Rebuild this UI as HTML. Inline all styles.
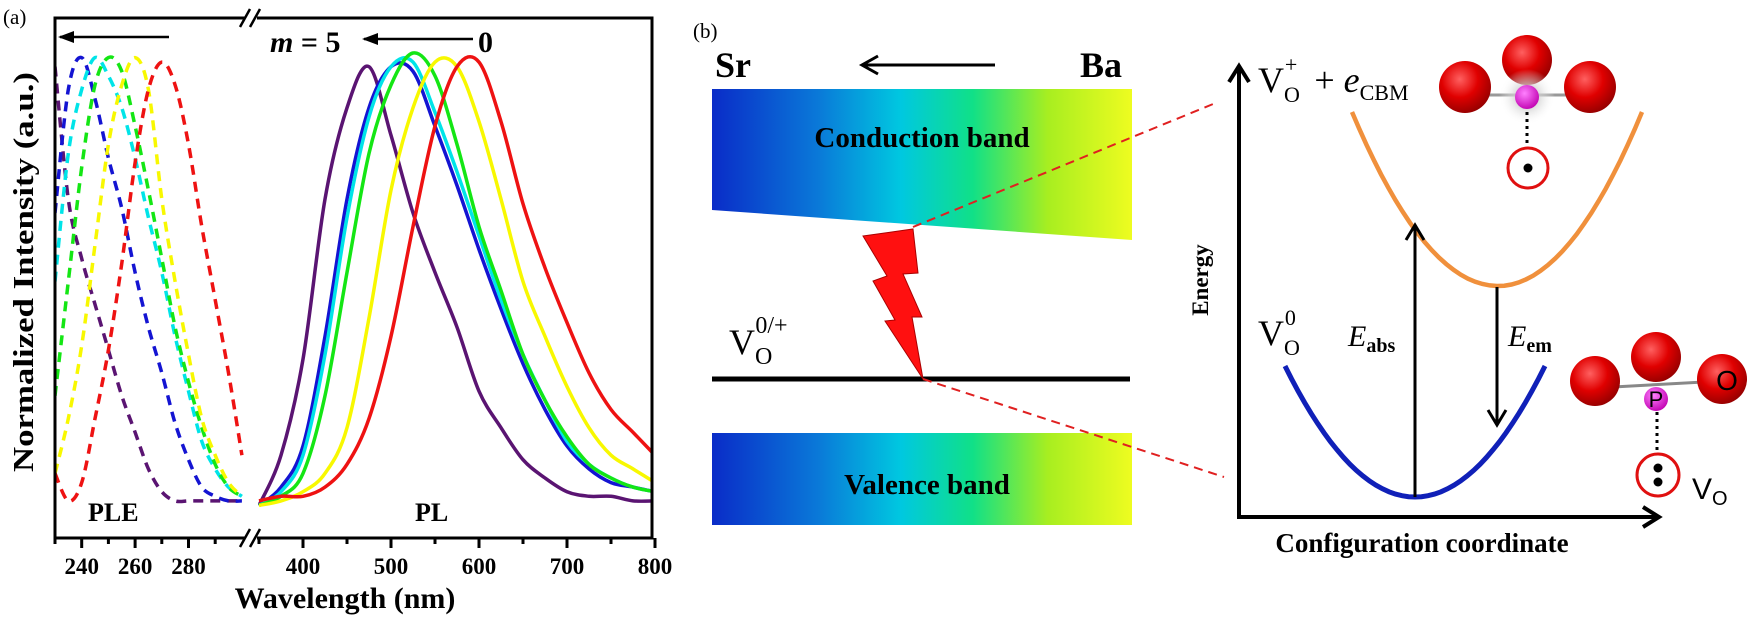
<!DOCTYPE html>
<html><head><meta charset="utf-8"><style>
html,body{margin:0;padding:0;background:#fff;}
svg{display:block;font-family:"Liberation Serif",serif;}
</style></head><body>
<svg id="fig" width="1750" height="622" viewBox="0 0 1750 622" xmlns="http://www.w3.org/2000/svg">
<defs>
<linearGradient id="bandGrad" x1="0" x2="1" y1="0" y2="0">
<stop offset="0" stop-color="#0a2cc8"/><stop offset="0.25" stop-color="#0a78d8"/><stop offset="0.45" stop-color="#00c8e0"/><stop offset="0.62" stop-color="#10e088"/><stop offset="0.8" stop-color="#a8ee20"/><stop offset="1" stop-color="#eefc20"/>
</linearGradient>
<radialGradient id="ball" cx="0.4" cy="0.35" r="0.7"><stop offset="0" stop-color="#ff6060"/><stop offset="0.5" stop-color="#e00000"/><stop offset="1" stop-color="#900000"/></radialGradient>
<radialGradient id="pball" cx="0.4" cy="0.35" r="0.7"><stop offset="0" stop-color="#ff80ff"/><stop offset="1" stop-color="#c000b0"/></radialGradient>
<radialGradient id="glow"><stop offset="0.3" stop-color="#c8c8c8" stop-opacity="0.9"/><stop offset="1" stop-color="#ffffff" stop-opacity="0"/></radialGradient>
</defs>
<g id="panelA"></g>
<g id="panelB">
<text x="693" y="38" font-size="21">(b)</text>
<text x="715" y="77" font-size="36" font-weight="bold">Sr</text>
<text x="1080" y="77" font-size="36" font-weight="bold">Ba</text>
<g><line x1="995" y1="65" x2="862" y2="65" stroke="#000" stroke-width="3"/><polyline points="878,56 862,65 878,74" fill="none" stroke="#000" stroke-width="3"/></g>
<polygon points="712,89 1132,89 1132,240 712,210" fill="url(#bandGrad)"/>
<text x="922" y="147" font-size="29" font-weight="bold" text-anchor="middle">Conduction band</text>
<rect x="712" y="433" width="420" height="92" fill="url(#bandGrad)"/>
<text x="927" y="494" font-size="29" font-weight="bold" text-anchor="middle">Valence band</text>
<line x1="712" y1="379" x2="1130" y2="379" stroke="#000" stroke-width="5"/>
<text x="729" y="354" font-size="36">V<tspan font-size="24" dy="10">O</tspan><tspan font-size="24" dx="-17" dy="-31">0/+</tspan></text>
<polygon points="863,236 913,229 918,273 903,274 922,317 912,317 923,379 885,321 895,320 873,281 887,276" fill="#ff1010" stroke="#a00" stroke-width="1"/>
<line x1="913" y1="227" x2="1218" y2="102" stroke="#e02020" stroke-width="2" stroke-dasharray="9,6"/>
<line x1="923" y1="379" x2="1224" y2="477" stroke="#e02020" stroke-width="2" stroke-dasharray="9,6"/>
<g><line x1="1239" y1="517" x2="1239" y2="67" stroke="#000" stroke-width="4"/><polyline points="1229,82 1239,66 1249,82" fill="none" stroke="#000" stroke-width="4"/></g>
<g><line x1="1237" y1="517" x2="1658" y2="517" stroke="#000" stroke-width="4"/><polyline points="1643,507 1659,517 1643,527" fill="none" stroke="#000" stroke-width="4"/></g>
<text transform="translate(1208,280) rotate(-90)" font-size="23" font-weight="bold" text-anchor="middle">Energy</text>
<text x="1422" y="552" font-size="27" font-weight="bold" text-anchor="middle">Configuration coordinate</text>
<path id="orange" fill="none" stroke="#f0903c" stroke-width="4.5"/>
<path id="blueP" fill="none" stroke="#1020b8" stroke-width="5"/>
<g><line x1="1415" y1="497" x2="1415" y2="226" stroke="#000" stroke-width="3"/><polyline points="1406,240 1415,225 1424,240" fill="none" stroke="#000" stroke-width="3"/></g>
<g><line x1="1497" y1="287" x2="1497" y2="424" stroke="#000" stroke-width="3"/><polyline points="1488,410 1497,425 1506,410" fill="none" stroke="#000" stroke-width="3"/></g>
<text x="1258" y="92" font-size="36">V<tspan font-size="22" dy="10">O</tspan><tspan font-size="22" dx="-15" dy="-30">+</tspan><tspan dx="8" dy="20"> + </tspan><tspan font-style="italic">e</tspan><tspan font-size="22" dy="8">CBM</tspan></text>
<text x="1258" y="345" font-size="36">V<tspan font-size="22" dy="10">O</tspan><tspan font-size="22" dx="-15" dy="-30">0</tspan></text>
<text x="1348" y="346" font-size="30" font-style="italic">E<tspan font-size="20" font-weight="bold" font-style="normal" dy="6">abs</tspan></text>
<text x="1508" y="346" font-size="30" font-style="italic">E<tspan font-size="20" font-weight="bold" font-style="normal" dy="6">em</tspan></text>
<g>
<line x1="1465" y1="95" x2="1591" y2="95" stroke="#999" stroke-width="3"/>
<circle cx="1527" cy="60" r="25" fill="url(#ball)"/>
<circle cx="1465" cy="87" r="26" fill="url(#ball)"/>
<circle cx="1590" cy="87" r="26" fill="url(#ball)"/>
<circle cx="1527" cy="97" r="28" fill="url(#glow)"/>
<circle cx="1527" cy="97" r="12" fill="url(#pball)"/>
<line x1="1527" y1="112" x2="1527" y2="147" stroke="#000" stroke-width="3" stroke-dasharray="3,4"/>
<circle cx="1528" cy="168" r="20" fill="none" stroke="#e01010" stroke-width="3"/>
<circle cx="1528" cy="168" r="4.5" fill="#000"/>
</g>
<g>
<line x1="1595" y1="388" x2="1722" y2="381" stroke="#888" stroke-width="3"/>
<circle cx="1595" cy="381" r="25" fill="url(#ball)"/>
<circle cx="1656" cy="357" r="25" fill="url(#ball)"/>
<circle cx="1722" cy="379" r="25" fill="url(#ball)"/>
<circle cx="1656" cy="399" r="12" fill="url(#pball)"/>
<text x="1656" y="407" font-family="Liberation Sans,sans-serif" font-size="22" text-anchor="middle">P</text>
<text x="1727" y="390" font-family="Liberation Sans,sans-serif" font-size="28" text-anchor="middle">O</text>
<line x1="1657" y1="412" x2="1657" y2="452" stroke="#000" stroke-width="3" stroke-dasharray="3,4"/>
<circle cx="1658" cy="475" r="21" fill="none" stroke="#e01010" stroke-width="3"/>
<circle cx="1658" cy="468" r="4.5" fill="#000"/><circle cx="1658" cy="482" r="4.5" fill="#000"/>
<text x="1692" y="499" font-family="Liberation Sans,sans-serif" font-size="30">V<tspan font-size="20" dy="6">O</tspan></text>
</g>
</g>
</svg>
<script>
const pleWl = [230,235,240,245,250,255,260,265,270,275,280,285,290,295,300];
const plePurple = [0.97,0.68,0.55,0.45,0.35,0.25,0.17,0.09,0.04,0.02,0.02,0.02,0.02,0.02,0.02];
const pleBlue = [0.65,0.92,0.99,0.9,0.77,0.66,0.52,0.4,0.3,0.19,0.11,0.05,0.03,0.02,0.02];
const pleCyan = [0.5,0.78,0.92,0.99,0.95,0.88,0.77,0.64,0.52,0.38,0.26,0.15,0.09,0.05,0.03];
const pleGreen = [0.25,0.5,0.75,0.93,0.99,0.96,0.84,0.7,0.55,0.4,0.28,0.18,0.1,0.05,0.03];
const pleYellow = [0.08,0.2,0.36,0.58,0.8,0.93,0.99,0.92,0.68,0.5,0.34,0.2,0.12,0.06,0.03];
const pleRed = [0.08,0.02,0.06,0.2,0.35,0.54,0.76,0.92,0.98,0.93,0.8,0.62,0.46,0.3,0.12];
const plWl = [350,375,400,425,450,475,500,525,550,575,600,625,650,675,700,725,750,775,800];
const plPurple = [0.01,0.12,0.33,0.68,0.88,0.97,0.82,0.65,0.52,0.4,0.26,0.18,0.11,0.07,0.04,0.03,0.03,0.02,0.02];
const plBlue = [0.01,0.05,0.14,0.38,0.68,0.88,0.97,0.96,0.84,0.71,0.57,0.44,0.32,0.22,0.14,0.09,0.06,0.05,0.04];
const plCyan = [0.01,0.04,0.12,0.34,0.64,0.86,0.97,0.98,0.87,0.74,0.6,0.46,0.34,0.24,0.15,0.1,0.07,0.05,0.04];
const plGreen = [0.01,0.03,0.08,0.25,0.52,0.78,0.93,1.0,0.95,0.8,0.62,0.48,0.34,0.24,0.16,0.1,0.07,0.05,0.04];
const plYellow = [0.01,0.02,0.04,0.08,0.18,0.42,0.7,0.88,0.98,0.97,0.85,0.68,0.5,0.38,0.27,0.18,0.12,0.09,0.06];
const plRed = [0.02,0.03,0.03,0.05,0.1,0.2,0.38,0.62,0.84,0.97,0.98,0.85,0.67,0.53,0.41,0.3,0.22,0.17,0.12];
const leftTicks = [240,260,280];
const leftMinor = [230,250,270,290];
const rightTicks = [400,500,600,700,800];
const rightMinor = [350,450,550,650,750];
const seriesColors = ["#5a1472","#1414d2","#00e4e8","#14e614","#f8f800","#ee1212"];
const seriesNames = ["m5","m4","m3","m2","m1","m0"];
const parabolaOrange = {xMin:1352, xMid:1498, xMax:1642, yTop:112, yBot:286};
const parabolaBlue = {xMin:1285, xMid:1415, xMax:1545, yTop:366, yBot:497};

const NS="http://www.w3.org/2000/svg";
const A=document.getElementById('panelA');
const xL = wl => 55 + (wl-230)*2.67;
const xR = wl => 303 + (wl-400)*0.88;
const yI = v => 510 - v*457;
function mk(tag,attrs,parent){const e=document.createElementNS(NS,tag);for(const k in attrs)e.setAttribute(k,attrs[k]);(parent||A).appendChild(e);return e;}
function smooth(pts){let d="M"+pts[0][0].toFixed(1)+","+pts[0][1].toFixed(1);
 for(let i=0;i<pts.length-1;i++){const p0=pts[i-1]||pts[i],p1=pts[i],p2=pts[i+1],p3=pts[i+2]||p2;
 d+=" C"+(p1[0]+(p2[0]-p0[0])/6).toFixed(1)+","+(p1[1]+(p2[1]-p0[1])/6).toFixed(1)+" "+(p2[0]-(p3[0]-p1[0])/6).toFixed(1)+","+(p2[1]-(p3[1]-p1[1])/6).toFixed(1)+" "+p2[0].toFixed(1)+","+p2[1].toFixed(1);}
 return d;}
const defs=document.querySelector('defs');
const c1=mk('clipPath',{id:'clipL'},defs);mk('rect',{x:56,y:19,width:192,height:518},c1);
const c2=mk('clipPath',{id:'clipR'},defs);mk('rect',{x:258,y:19,width:393,height:518},c2);
const pleSeries=[plePurple,pleBlue,pleCyan,pleGreen,pleYellow,pleRed];
const plSeries=[plPurple,plBlue,plCyan,plGreen,plYellow,plRed];
const gL=mk('g',{'clip-path':'url(#clipL)'});


pleSeries.forEach((s,i)=>{const p=mk('path',{d:smooth(pleWl.map((w,j)=>[xL(w),yI(s[j])])),fill:'none',stroke:seriesColors[i],'stroke-width':3.5,'stroke-dasharray':'10,7'},gL);
 
 });
const gR=mk('g',{'clip-path':'url(#clipR)'});


plSeries.forEach((s,i)=>{const p=mk('path',{d:smooth(plWl.map((w,j)=>[xR(w),yI(s[j])])),fill:'none',stroke:seriesColors[i],'stroke-width':3.5},gR);
 
 });
const fr=mk('rect',{x:55,y:18,width:597,height:520,fill:'none',stroke:'#000','stroke-width':3});


[18,538].forEach(y=>{const g=mk('g',{});
 
 
 mk('rect',{x:245,y:y-4,width:12,height:8,fill:'#fff'},g);
 mk('line',{x1:240,y1:y+9,x2:250,y2:y-9,stroke:'#000','stroke-width':2.5},g);
 mk('line',{x1:250,y1:y+9,x2:260,y2:y-9,stroke:'#000','stroke-width':2.5},g);});
const tg=mk('g',{});


leftTicks.forEach(w=>{mk('line',{x1:xL(w),y1:538,x2:xL(w),y2:548,stroke:'#000','stroke-width':3},tg);
 const t=mk('text',{x:xL(w),y:574,'font-size':23,'font-weight':'bold','text-anchor':'middle'},tg);t.textContent=w;
 
 });
leftMinor.forEach(w=>mk('line',{x1:xL(w),y1:538,x2:xL(w),y2:544,stroke:'#000','stroke-width':3},tg));
rightTicks.forEach(w=>{mk('line',{x1:xR(w),y1:538,x2:xR(w),y2:548,stroke:'#000','stroke-width':3},tg);
 const t=mk('text',{x:xR(w),y:574,'font-size':23,'font-weight':'bold','text-anchor':'middle'},tg);t.textContent=w;
 
 });
rightMinor.forEach(w=>mk('line',{x1:xR(w),y1:538,x2:xR(w),y2:544,stroke:'#000','stroke-width':3},tg));
function txt(s,a,name){const t=mk('text',a);t.textContent=s;
 
 return t;}
txt('(a)',{x:3,y:24,'font-size':21},'panel-a-label');
txt('Wavelength (nm)',{x:345,y:608,'font-size':30,'font-weight':'bold','text-anchor':'middle'},'x-axis-title');
txt('Normalized Intensity (a.u.)',{transform:'translate(33,272) rotate(-90)','font-size':28,'font-weight':'bold','text-anchor':'middle',textLength:400,lengthAdjust:'spacingAndGlyphs'},'y-axis-title');
txt('PLE',{x:88,y:521,'font-size':26,'font-weight':'bold'},'ple-label');
txt('PL',{x:415,y:521,'font-size':26,'font-weight':'bold'},'pl-label');
const m=txt('',{x:270,y:52,'font-size':30,'font-weight':'bold'},'m-label');m.innerHTML='<tspan font-style="italic">m</tspan> = 5';
txt('0',{x:478,y:52,'font-size':30,'font-weight':'bold'},'m-zero-label');
const a1=mk('g',{});
mk('line',{x1:169,y1:37,x2:60,y2:37,stroke:'#000','stroke-width':2.5},a1);mk('polygon',{points:'58,37 74,31 74,43',fill:'#000'},a1);
const a2=mk('g',{});
mk('line',{x1:473,y1:39,x2:364,y2:39,stroke:'#000','stroke-width':2.5},a2);mk('polygon',{points:'362,39 378,33 378,45',fill:'#000'},a2);
function para(p){const pts=[];for(let i=0;i<=40;i++){const x=p.xMin+(p.xMax-p.xMin)*i/40;const half=x<p.xMid?(p.xMid-p.xMin):(p.xMax-p.xMid);const u=(x-p.xMid)/half;pts.push([x,p.yBot-(p.yBot-p.yTop)*u*u]);}
 return "M"+pts.map(q=>q[0].toFixed(1)+","+q[1].toFixed(1)).join(" L");}
document.getElementById('orange').setAttribute('d',para(parabolaOrange));
document.getElementById('blueP').setAttribute('d',para(parabolaBlue));
</script>
</body></html>
